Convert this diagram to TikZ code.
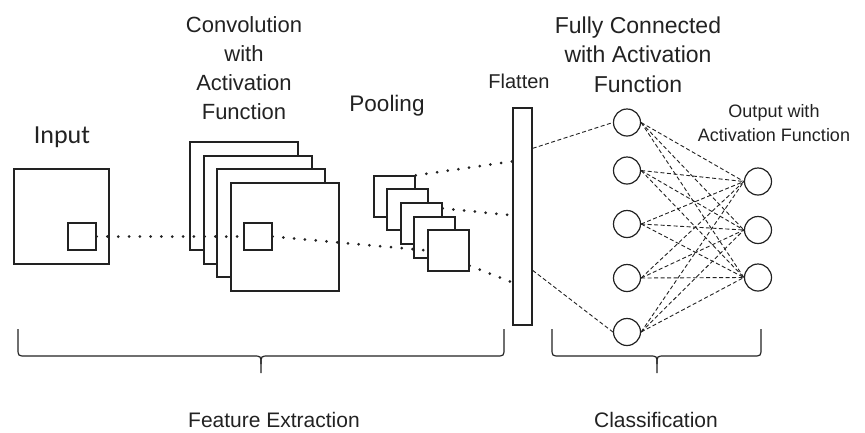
\documentclass[tikz,border=0pt]{standalone}
\usepackage{fontspec}
\setmainfont{Liberation Sans}
\newfontfamily\inpfont{Carlito}
\usetikzlibrary{calc}
\definecolor{ink}{HTML}{222222}
\tikzset{
  box/.style={draw=ink, line width=1.3pt, fill=white, inner sep=0pt},
  neuron/.style={draw=ink, line width=1.2pt, fill=white, circle, minimum size=27pt, inner sep=0pt},
  dotline/.style={ink, line width=3pt, line cap=round, dash pattern=on 0pt off 10.8pt},
  dashline/.style={ink, line width=0.9pt, dash pattern=on 4pt off 2.5pt},
  bracepath/.style={ink, line width=1.2pt},
  lbl/.style={text=ink, inner sep=0pt, align=center},
}
\begin{document}
\begin{tikzpicture}[x=1pt, y=-1pt]
\useasboundingbox (0,0) rectangle (865,432);

% Input
\node[box, minimum width=95pt, minimum height=95pt] (inp) at (61.5,216.5) {};
\node[box, minimum width=28pt, minimum height=27pt] (insq) at (82,236.5) {};

% Convolution stack
\node[box, minimum width=108pt, minimum height=108pt] (c1) at (244,196) {};
\node[box, minimum width=108pt, minimum height=108pt] (c2) at (258,210) {};
\node[box, minimum width=108pt, minimum height=108pt] (c3) at (271,223) {};
\node[box, minimum width=108pt, minimum height=108pt] (c4) at (285,237) {};
\node[box, minimum width=28pt, minimum height=27pt] (csq) at (258,236.5) {};

% Pooling stack
\node[box, minimum width=41pt, minimum height=41pt] (p1) at (394.5,196.5) {};
\node[box, minimum width=41pt, minimum height=41pt] (p2) at (407.5,209.5) {};
\node[box, minimum width=41pt, minimum height=41pt] (p3) at (421.5,223.5) {};
\node[box, minimum width=41pt, minimum height=41pt] (p4) at (434.5,237.5) {};
\node[box, minimum width=41pt, minimum height=41pt] (p5) at (448.5,250.5) {};

% Flatten
\node[box, minimum width=19pt, minimum height=217pt] (flat) at (522.5,216.5) {};

% Fully connected
\node[neuron] (f1) at (627,122.5) {};
\node[neuron] (f2) at (627,170.5) {};
\node[neuron] (f3) at (627,224) {};
\node[neuron] (f4) at (627,278) {};
\node[neuron] (f5) at (627,332) {};

% Output
\node[neuron] (o1) at (758,181.5) {};
\node[neuron] (o2) at (758,230) {};
\node[neuron] (o3) at (758,277.5) {};

% dotted connectors
\draw[dotline] (insq.east) -- (csq.west);
\draw[dotline] (csq.east) -- (p5.west);
\draw[dotline] (p1.north east) -- ($(flat.north west)+(0,54)$);
\draw[dotline] ($(p3.north east)+(0,6)$) -- ($(flat.north west)+(0,108)$);
\draw[dotline] ($(p5.south east)+(0,-6)$) -- ($(flat.north west)+(0,175)$);

% dashed connectors
\draw[dashline] ($(flat.north east)+(0,41)$) -- (f1.west);
\draw[dashline] ($(flat.north east)+(0,163)$) -- (f5.west);
\foreach \f in {f1,f2,f3,f4,f5}{
  \foreach \o in {o1,o2,o3}{
    \draw[dashline] (\f.east) -- (\o.west);
  }
}

% braces
\draw[bracepath] (18,329) -- (18,348) .. controls (18,356) .. (26,356) -- (253,356) .. controls (261,356) .. (261,364) -- (261,373);
\draw[bracepath] (504,329) -- (504,348) .. controls (504,356) .. (496,356) -- (269,356) .. controls (261,356) .. (261,364);
\draw[bracepath] (552,329) -- (552,348) .. controls (552,356) .. (560,356) -- (649,356) .. controls (657,356) .. (657,364) -- (657,373);
\draw[bracepath] (761,329) -- (761,348) .. controls (761,356) .. (753,356) -- (665,356) .. controls (657,356) .. (657,364);

% labels
\node[lbl, anchor=base, font=\inpfont\fontsize{26}{30}\selectfont] (tin) at (62,143) {Input};
\node[lbl, anchor=north, font=\fontsize{22}{29}\selectfont] (tconv) at (244,16) {Convolution\\with\\Activation\\Function};
\node[lbl, anchor=base, font=\fontsize{22.5}{29}\selectfont] (tpool) at (387,111) {Pooling};
\node[lbl, anchor=base, font=\fontsize{20}{26}\selectfont] (tflat) at (519,88) {Flatten};
\node[lbl, anchor=north, font=\fontsize{23}{29.5}\selectfont] (tfc) at (638,16.5) {Fully Connected\\with Activation\\Function};
\node[lbl, anchor=north, font=\fontsize{18}{24}\selectfont] (tout) at (774,104) {Output with\\Activation Function};
\node[lbl, anchor=base, font=\fontsize{21}{26}\selectfont] (tfe) at (274,427) {Feature Extraction};
\node[lbl, anchor=base, font=\fontsize{21}{26}\selectfont] (tcl) at (656,427) {Classification};
\end{tikzpicture}
\end{document}
